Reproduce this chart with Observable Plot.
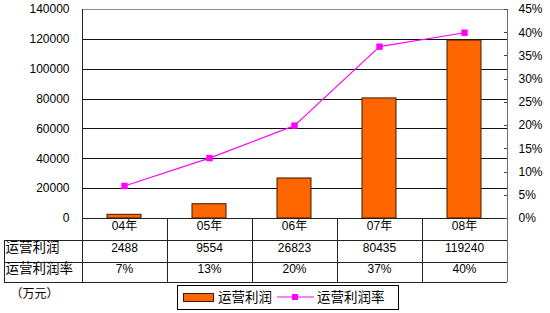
<!DOCTYPE html>
<html>
<head>
<meta charset="utf-8">
<script src="https://cdn.jsdelivr.net/npm/d3@7"></script>
<script src="https://cdn.jsdelivr.net/npm/@observablehq/plot@0.6"></script>
<style>
  html, body { margin: 0; padding: 0; background: #fff; }
  svg { display: block; }
</style>
</head>
<body>
<div id="chart"></div>
<script>
// ---- data ----
const cats = ["04年", "05年", "06年", "07年", "08年"];
const profit = [2488, 9554, 26823, 80435, 119240];
const rate = [7, 13, 20, 37, 40];
const rateLabels = ["7%", "13%", "20%", "37%", "40%"];
const yTicks = [0, 20000, 40000, 60000, 80000, 100000, 120000, 140000];
const pctTicks = [0, 5, 10, 15, 20, 25, 30, 35, 40, 45];
const rowLabels = ["运营利润", "运营利润率"];
const unitLabel = "（万元）";
const legendLabels = ["运营利润", "运营利润率"];

// ---- config ----
const yMax = 140000, pMax = 45;
const K = yMax / pMax;
const ORANGE = "#FF6600", MAGENTA = "#FF00FF";
const FONT = "'Liberation Sans', 'Noto Sans CJK SC', sans-serif";

const rows = profit.map((v, i) => ({cat: cats[i], profit: v, rate: rate[i], rateLabel: rateLabels[i]}));

function tableAndLegend(index, scales, values, dim) {
  const {width, height, marginLeft, marginRight, marginTop, marginBottom} = dim;
  const x0 = marginLeft, x1 = width - marginRight, y0 = height - marginBottom;
  const step = (x1 - x0) / cats.length;
  const r1 = y0 + 22, r2 = y0 + 44, r3 = y0 + 64;
  const leftEdge = 4;
  const g = d3.create("svg:g").attr("shape-rendering", "crispEdges");
  const line = (xa, ya, xb, yb, c) => g.append("line")
    .attr("x1", xa).attr("y1", ya).attr("x2", xb).attr("y2", yb)
    .attr("stroke", c).attr("stroke-width", 1);
  // frame top and right axis
  line(x0, marginTop, x1, marginTop, "#8c8c8c");
  line(x1, marginTop, x1, r3, "#6e6e6e");
  // left axis
  line(x0, marginTop, x0, r3, "#222");
  // base line and table rows
  line(x0, y0, x1, y0, "#222");
  line(leftEdge, r1, x1, r1, "#222");
  line(leftEdge, r2, x1, r2, "#222");
  line(leftEdge, r3, x1, r3, "#222");
  line(leftEdge, r1, leftEdge, r3, "#222");
  for (let i = 1; i < cats.length; i++) line(x0 + i * step, y0, x0 + i * step, r3, "#222");
  // right axis ticks (inward)
  for (const p of pctTicks) {
    const yy = Math.round(scales.y(p * K));
    line(x1 - 3, yy, x1, yy, "#444");
  }
  // legend
  const lg = g.append("g").attr("text-anchor", "start");
  lg.append("rect").attr("x", 177).attr("y", 285).attr("width", 221).attr("height", 24)
    .attr("fill", "#fff").attr("stroke", "#000");
  lg.append("rect").attr("x", 183).attr("y", 293).attr("width", 30).attr("height", 8)
    .attr("fill", ORANGE).attr("stroke", "#3a1a00");
  lg.append("line").attr("x1", 277).attr("x2", 314).attr("y1", 297).attr("y2", 297)
    .attr("stroke", MAGENTA).attr("stroke-width", 1.2).attr("shape-rendering", "auto");
  lg.append("rect").attr("x", 292).attr("y", 294).attr("width", 6).attr("height", 6)
    .attr("fill", MAGENTA);
  lg.append("text").attr("x", 218).attr("y", 297).attr("dy", "0.36em").attr("text-anchor", "start")
    .attr("font-size", 13.5).attr("font-family", FONT).text(legendLabels[0]);
  lg.append("text").attr("x", 317).attr("y", 297).attr("dy", "0.36em").attr("text-anchor", "start")
    .attr("font-size", 13.5).attr("font-family", FONT).text(legendLabels[1]);
  return g.node();
}

const chart = Plot.plot({
  width: 550,
  height: 313,
  marginTop: 9,
  marginBottom: 95,
  marginLeft: 82,
  marginRight: 43,
  style: {fontFamily: FONT, fontSize: "12px", background: "#fff", color: "#000"},
  x: {domain: cats, type: "band", paddingInner: 0.6, paddingOuter: 0.3, axis: null},
  y: {domain: [0, yMax], axis: null},
  marks: [
    Plot.ruleY(yTicks.filter(d => d > 0 && d < yMax), {stroke: "#111", strokeWidth: 1, shapeRendering: "crispEdges"}),
    Plot.barY(rows, {x: "cat", y: "profit", fill: ORANGE, stroke: "#3a1a00", strokeWidth: 1}),
    Plot.line(rows, {x: "cat", y: d => d.rate * K, stroke: MAGENTA, strokeWidth: 1.2}),
    Plot.dot(rows, {x: "cat", y: d => d.rate * K, symbol: "square", r: 3.6, fill: MAGENTA, stroke: "none"}),
    tableAndLegend,
    Plot.axisY({ticks: yTicks, anchor: "left", tickSize: 0, tickPadding: 13, label: null, fontSize: 12, tickFormat: d => String(d)}),
    Plot.axisY({ticks: pctTicks.map(p => p * K), anchor: "right", tickSize: 0, tickPadding: 11, label: null, fontSize: 12, tickFormat: v => Math.round(v / K) + "%"}),
    Plot.text(rows, {x: "cat", text: "cat", frameAnchor: "bottom", dy: 11, fontSize: 12}),
    Plot.text(rows, {x: "cat", text: d => String(d.profit), frameAnchor: "bottom", dy: 33, fontSize: 12}),
    Plot.text(rows, {x: "cat", text: "rateLabel", frameAnchor: "bottom", dy: 54, fontSize: 12}),
    Plot.text([rowLabels[0]], {frameAnchor: "bottom-left", dx: -77, dy: 33, textAnchor: "start", fontSize: 13.5}),
    Plot.text([rowLabels[1]], {frameAnchor: "bottom-left", dx: -77, dy: 54, textAnchor: "start", fontSize: 13.5}),
    Plot.text([unitLabel], {frameAnchor: "bottom-left", dx: -72, dy: 79, textAnchor: "start", fontSize: 12})
  ]
});
document.getElementById("chart").appendChild(chart);
</script>
</body>
</html>
